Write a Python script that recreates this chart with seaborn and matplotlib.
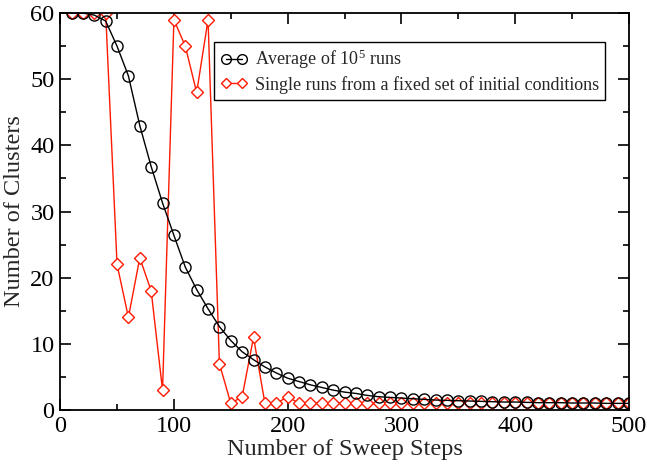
import matplotlib
matplotlib.use("Agg")
import matplotlib.pyplot as plt
import seaborn as sns
import pandas as pd
from matplotlib.lines import Line2D
from matplotlib.ticker import MultipleLocator

steps = list(range(10, 510, 10))
average_runs = [60.0, 60.0, 59.7, 58.8, 55.0, 50.5, 43.0, 36.8, 31.3, 26.4,
                21.6, 18.2, 15.3, 12.6, 10.5, 8.8, 7.6, 6.5, 5.6, 4.8,
                4.3, 3.8, 3.4, 3.0, 2.7, 2.5, 2.2, 2.0, 1.9, 1.8,
                1.7, 1.6, 1.5, 1.45, 1.4, 1.35, 1.3, 1.25, 1.2, 1.2,
                1.15, 1.1, 1.1, 1.1, 1.05, 1.05, 1.05, 1.0, 1.0, 1.0]
single_runs = [60, 60, 60, 60, 22, 14, 23, 18, 3, 59,
               55, 48, 59, 7, 1, 2, 11, 1, 1, 2,
               1, 1, 1, 1, 1, 1, 1, 1, 1, 1,
               1, 1, 1, 1, 1, 1, 1, 1, 1, 1,
               1, 1, 1, 1, 1, 1, 1, 1, 1, 1]
labels = [r"Average of $\mathregular{10^5}$ runs",
          "Single runs from a fixed set of initial conditions"]

sns.set_style("ticks")
plt.rcParams['font.family'] = ['Liberation Serif', 'DejaVu Serif']
plt.rcParams['mathtext.fontset'] = 'custom'
plt.rcParams['mathtext.rm'] = 'Liberation Serif'

fig = plt.figure(figsize=(6.47, 4.68), dpi=100)
ax = fig.add_axes([0.093, 0.124, 0.879, 0.848])

df_avg = pd.DataFrame({"x": steps, "y": average_runs})
df_single = pd.DataFrame({"x": steps, "y": single_runs})
red = "#ff1a00"

sns.lineplot(data=df_single, x="x", y="y", ax=ax, color=red, lw=1.0,
             marker="D", markersize=6.3, markerfacecolor="white",
             markeredgecolor=red, markeredgewidth=1.0, zorder=2)
sns.lineplot(data=df_avg, x="x", y="y", ax=ax, color="black", lw=1.0,
             marker="o", markersize=8.0, markerfacecolor="none",
             markeredgecolor="black", markeredgewidth=1.0, zorder=3)

ax.set_xlim(0, 500)
ax.set_ylim(0, 60)
ax.xaxis.set_major_locator(MultipleLocator(100))
ax.xaxis.set_minor_locator(MultipleLocator(50))
ax.yaxis.set_major_locator(MultipleLocator(10))
ax.yaxis.set_minor_locator(MultipleLocator(5))
ax.tick_params(which="both", direction="in", top=True, right=True,
               labelsize=17.5, width=1.2, color="black", labelcolor="black")
ax.tick_params(which="major", length=8, pad=4)
ax.tick_params(which="minor", length=4)
for s in ax.spines.values():
    s.set_linewidth(1.3)
    s.set_color("black")
ax.set_xlabel("Number of Sweep Steps", fontsize=17.5, labelpad=2)
ax.set_ylabel("Number of Clusters", fontsize=17.5, labelpad=4)

handles = [
    Line2D([], [], color="black", lw=1.0, marker="o", markersize=7,
           markerfacecolor="none", markeredgecolor="black"),
    Line2D([], [], color=red, lw=1.0, marker="D", markersize=5,
           markerfacecolor="white", markeredgecolor=red),
]
leg = ax.legend(handles, labels, loc="upper right", bbox_to_anchor=(0.958, 0.928),
                numpoints=2, fontsize=13, frameon=True, fancybox=False,
                edgecolor="black", framealpha=1, handlelength=1.5,
                handletextpad=0.4, borderpad=0.35, labelspacing=0.25,
                borderaxespad=0.0)
leg.get_frame().set_linewidth(1.0)

fig.savefig("out.png", dpi=100)
